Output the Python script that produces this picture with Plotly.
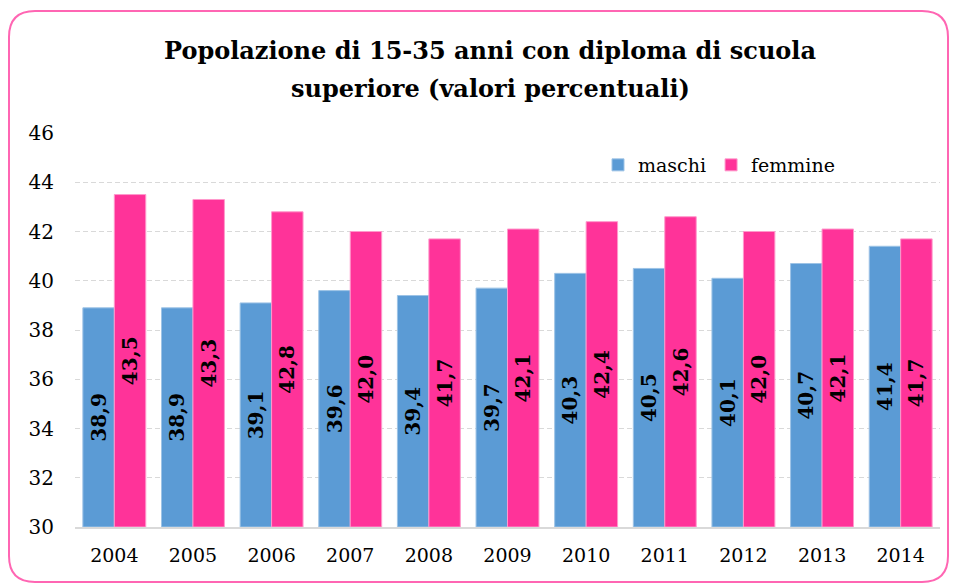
import plotly.graph_objects as go

anni = ["2004", "2005", "2006", "2007", "2008", "2009", "2010", "2011", "2012", "2013", "2014"]
maschi = [38.9, 38.9, 39.1, 39.6, 39.4, 39.7, 40.3, 40.5, 40.1, 40.7, 41.4]
femmine = [43.5, 43.3, 42.8, 42.0, 41.7, 42.1, 42.4, 42.6, 42.0, 42.1, 41.7]
y_ticks = [30, 32, 34, 36, 38, 40, 42, 44, 46]
titolo = ["Popolazione di 15-35 anni con diploma di scuola", "superiore (valori percentuali)"]
BASE = 30  # axis minimum; bars are drawn from here

W, H = 955, 584
ML, MR, MT, MB = 75, 15, 133, 57
PW, PH = W - ML - MR, H - MT - MB

FONT = "DejaVu Serif"

def fmt(v):
    return f"{v:.1f}".replace(".", ",")

def bar(vals, name, color, edge):
    return go.Bar(
        x=anni, y=[v - BASE for v in vals], base=BASE, name=name,
        marker=dict(color=color, line=dict(color=edge, width=1)),
        text=[fmt(v) for v in vals], textposition="inside", insidetextanchor="middle",
        textangle=-90, constraintext="none",
        insidetextfont=dict(family=FONT, size=20, color="black"),
        texttemplate="<b>%{text}</b>",
        customdata=vals, hovertemplate="%{x}: %{customdata}<extra>" + name + "</extra>",
    )

fig = go.Figure()
fig.add_trace(bar(maschi, "maschi", "#5B9BD5", "#9DC3E6"))
fig.add_trace(bar(femmine, "femmine", "#FF3399", "#FF99CC"))

# rounded border (pixel coords -> paper coords)
def px(x):
    return (x - ML) / PW

def py(y):
    return 1 - (y - MT) / PH

x0, x1, y0, y1, r = 9, 948, 11, 582, 26
path = (
    f"M {px(x0 + r)},{py(y0)} L {px(x1 - r)},{py(y0)} "
    f"Q {px(x1)},{py(y0)} {px(x1)},{py(y0 + r)} "
    f"L {px(x1)},{py(y1 - r)} Q {px(x1)},{py(y1)} {px(x1 - r)},{py(y1)} "
    f"L {px(x0 + r)},{py(y1)} Q {px(x0)},{py(y1)} {px(x0)},{py(y1 - r)} "
    f"L {px(x0)},{py(y0 + r)} Q {px(x0)},{py(y0)} {px(x0 + r)},{py(y0)} Z"
)
fig.add_shape(type="path", path=path, xref="paper", yref="paper",
              line=dict(color="#FF66B3", width=2), layer="below")

for line, ypix in zip(titolo, [50, 88]):
    fig.add_annotation(
        text=f"<b>{line}</b>", x=px(490), y=py(ypix), xref="paper", yref="paper",
        xanchor="center", yanchor="middle", showarrow=False,
        font=dict(family=FONT, size=24, color="black"),
    )

fig.update_layout(
    width=W, height=H,
    margin=dict(l=ML, r=MR, t=MT, b=MB),
    paper_bgcolor="white", plot_bgcolor="white",
    barmode="group", bargap=0.2, bargroupgap=0,
    legend=dict(
        orientation="h", x=px(598), y=py(165), xanchor="left", yanchor="middle",
        font=dict(family=FONT, size=19, color="black"),
        bgcolor="rgba(0,0,0,0)", itemwidth=30, traceorder="normal",
    ),
    xaxis=dict(
        showline=True, linecolor="#D9D9D9", linewidth=2, ticks="",
        tickfont=dict(family=FONT, size=19, color="black"),
        ticklabelstandoff=10,
    ),
    yaxis=dict(
        range=[30, 46], tickvals=y_ticks, showline=False,
        gridcolor="#D9D9D9", griddash="5px,3px", gridwidth=1,
        tickfont=dict(family=FONT, size=20, color="black"),
        zeroline=False, ticklabelstandoff=20,
    ),
)

fig.write_html("out.html", config={"displayModeBar": False},
               post_script="document.body.style.margin='0';")
